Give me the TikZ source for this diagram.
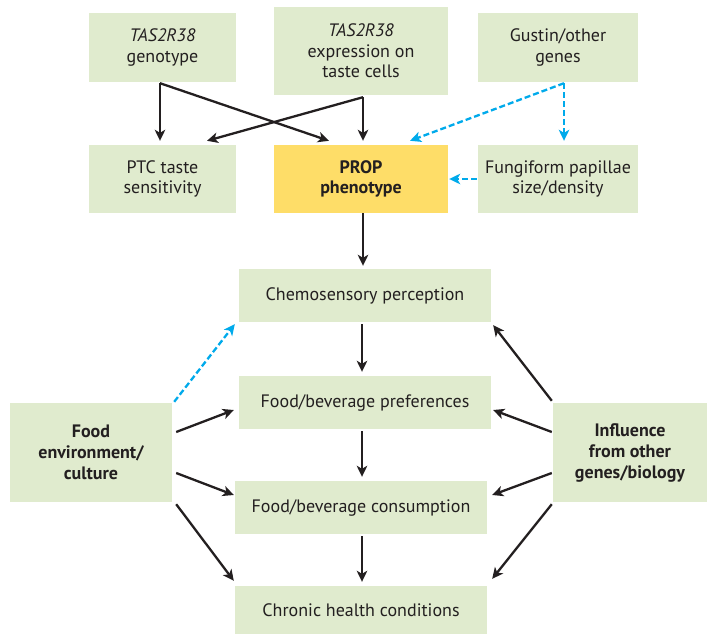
\documentclass[tikz,border=0pt]{standalone}
\usepackage{fontspec}
\setmainfont{PT Sans}
\usetikzlibrary{arrows.meta,calc}
\definecolor{boxgreen}{RGB}{224,235,206}
\definecolor{propyellow}{RGB}{254,221,104}
\definecolor{txt}{RGB}{35,31,32}
\definecolor{dashblue}{RGB}{0,170,235}
\tikzset{
  box/.style={fill=boxgreen, draw=none, align=center, text=txt, font=\fontsize{18}{20.5}\selectfont, inner sep=0pt},
  arr/.style={draw=txt, line width=2.3pt, -{Stealth[length=11pt,width=10.5pt,inset=3pt]}},
  darr/.style={draw=dashblue, line width=2.3pt, dash pattern=on 6pt off 3pt, -{Stealth[length=11pt,width=10.5pt,inset=3pt]}}
}
\begin{document}
\begin{tikzpicture}[x=1pt,y=-1pt]
\useasboundingbox (0,0) rectangle (707,634);
% top row
\node[box, minimum width=147pt, minimum height=69pt] (geno) at (162.5,47.5) {\textit{TAS2R38}\\genotype};
\node[box, minimum width=174pt, minimum height=88pt] (expr) at (361,51) {\textit{TAS2R38}\\expression on\\taste cells};
\node[box, minimum width=160pt, minimum height=69pt] (gust) at (558,47.5) {Gustin/other\\genes};
% second row
\node[box, minimum width=147pt, minimum height=68pt] (ptc) at (162.5,179) {PTC taste\\sensitivity};
\node[box, fill=propyellow, font=\fontsize{18}{20.5}\selectfont\bfseries, minimum width=174pt, minimum height=68pt] (prop) at (361,179) {PROP\\phenotype};
\node[box, minimum width=160pt, minimum height=68pt] (fung) at (558,179) {Fungiform papillae\\size/density};
% central column
\node[box, minimum width=252pt, minimum height=53pt] (chemo) at (365,295.5) {Chemosensory perception};
\node[box, minimum width=252pt, minimum height=53pt] (pref) at (365,402.5) {Food/beverage preferences};
\node[box, minimum width=252pt, minimum height=53pt] (cons) at (361,507.5) {Food/beverage consumption};
\node[box, minimum width=252pt, minimum height=48pt] (chron) at (361,610) {Chronic health conditions};
% side boxes
\node[box, font=\fontsize{18}{21}\selectfont\bfseries, minimum width=162pt, minimum height=99pt] (env) at (91,452.5) {Food\\environment/\\culture};
\node[box, font=\fontsize{18}{21}\selectfont\bfseries, minimum width=154pt, minimum height=99pt] (infl) at (630,452.5) {Influence\\from other\\genes/biology};
% top arrows
\draw[arr] ([xshift=-2.5pt,yshift=-1pt]geno.south) -- ([xshift=-2.5pt,yshift=4pt]ptc.north);
\draw[arr] ([xshift=-2.5pt,yshift=-1pt]geno.south) -- ([xshift=-32pt,yshift=4pt]prop.north);
\draw[arr] ([xshift=2pt,yshift=-2pt]expr.south) -- ([xshift=44.5pt,yshift=4pt]ptc.north);
\draw[arr] ([xshift=2pt,yshift=-2pt]expr.south) -- ([xshift=2pt,yshift=4pt]prop.north);
\draw[darr] ([xshift=6pt,yshift=-1pt]gust.south) -- ([xshift=49pt,yshift=4pt]prop.north);
\draw[darr] ([xshift=6pt,yshift=-1pt]gust.south) -- ([xshift=6pt,yshift=4pt]fung.north);
\draw[darr] ([xshift=-1pt]fung.west) -- ([xshift=1pt]prop.east);
% central arrows
\draw[arr] ([xshift=2pt]prop.south) -- ([xshift=-2pt,yshift=3pt]chemo.north);
\draw[arr] ([xshift=-3pt,yshift=-2pt]chemo.south) -- ([xshift=-3pt,yshift=4pt]pref.north);
\draw[arr] ([xshift=-3pt,yshift=-2pt]pref.south) -- ([xshift=1pt,yshift=4pt]cons.north);
\draw[arr] ([xshift=1pt,yshift=-2pt]cons.south) -- ([xshift=1pt,yshift=4pt]chron.north);
% left side
\draw[darr] ([xshift=2pt,yshift=1pt]env.north east) -- ([xshift=-4pt,yshift=-2pt]chemo.south west);
\draw[arr] ([xshift=4pt,yshift=20.5pt]env.east) -- ([xshift=-5pt,yshift=-7.5pt]pref.west);
\draw[arr] ([xshift=4pt,yshift=-20.5pt]env.east) -- ([xshift=-1pt,yshift=12.5pt]cons.west);
\draw[arr] ([xshift=4pt,yshift=-2pt]env.south east) -- ([xshift=-1pt,yshift=5pt]chron.north west);
% right side
\draw[arr] ([xshift=-1pt,yshift=2pt]infl.north west) -- ([xshift=2pt,yshift=-3pt]chemo.south east);
\draw[arr] ([xshift=-1pt,yshift=20.5pt]infl.west) -- ([xshift=2pt,yshift=-7.5pt]pref.east);
\draw[arr] ([xshift=-1pt,yshift=-20.5pt]infl.west) -- ([xshift=5pt,yshift=12.5pt]cons.east);
\draw[arr] ([xshift=-1pt,yshift=-2pt]infl.south west) -- ([xshift=5pt,yshift=7pt]chron.north east);
\end{tikzpicture}
\end{document}
